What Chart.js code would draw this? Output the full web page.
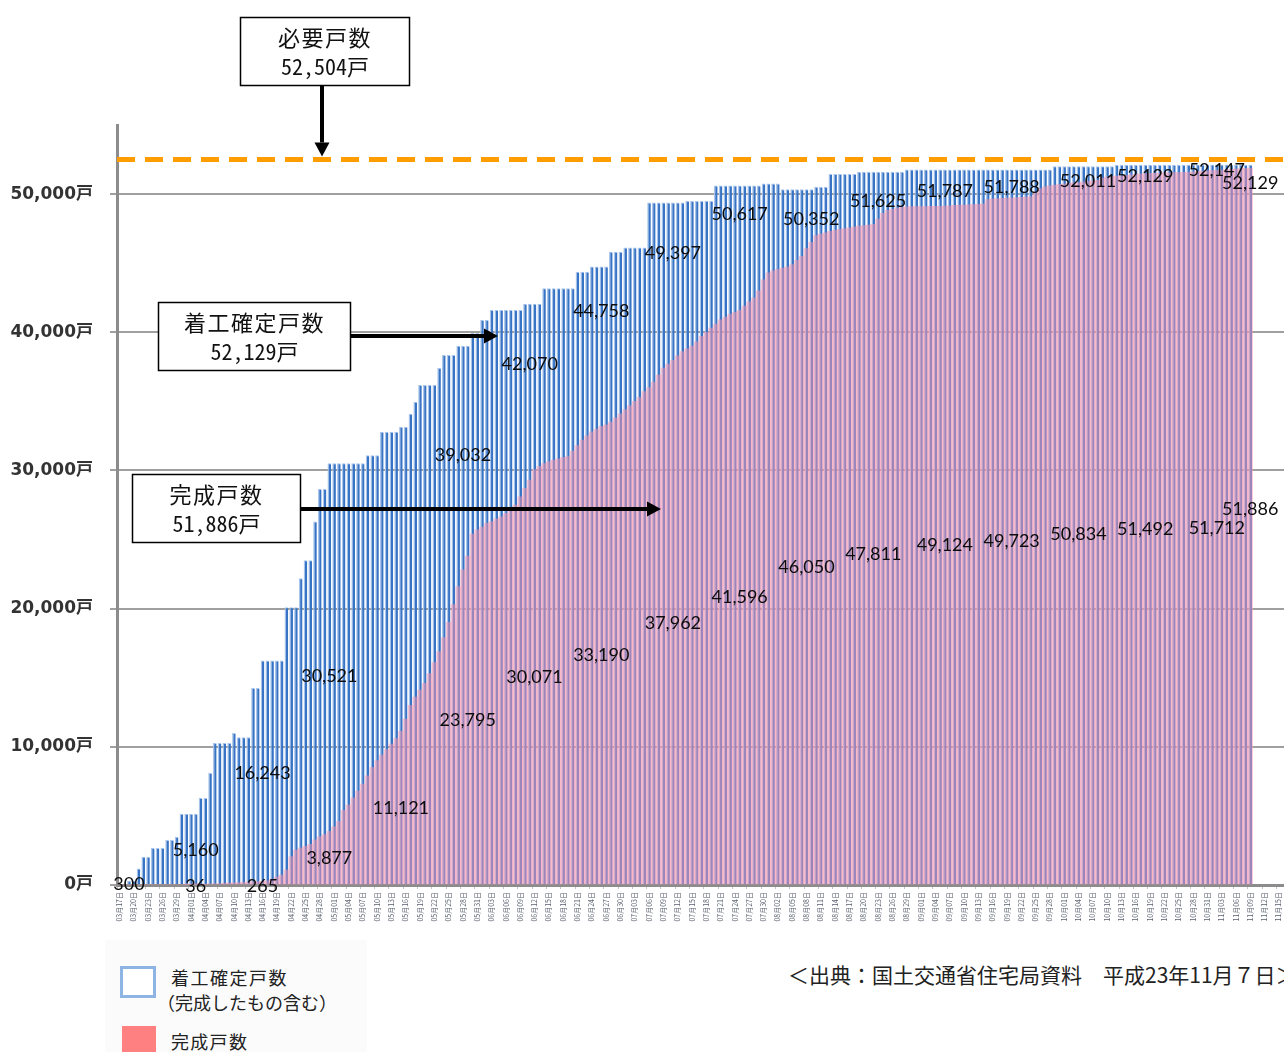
<!DOCTYPE html>
<html lang="ja">
<head>
<meta charset="utf-8">
<title>応急仮設住宅 着工確定戸数・完成戸数の推移</title>
<script src="https://cdn.jsdelivr.net/npm/chart.js@4.4.1/dist/chart.umd.min.js"></script>
<style>
  html, body { margin: 0; padding: 0; background: #fff; overflow: hidden; }
  #wrap { position: relative; width: 1284px; height: 1052px; overflow: hidden; background: #fff; }
  #c { position: absolute; left: 0; top: 0; }
  .jp { position: absolute; font-family: "Noto Sans CJK JP", sans-serif; color: #222; white-space: nowrap; line-height: 1; }
  #legendBg { position: absolute; left: 105px; top: 940px; width: 262px; height: 112px; background: #fbfbfb; }
  #swStarted { position: absolute; left: 120px; top: 966px; width: 30px; height: 26px; border: 3px solid #8db4e2; background: #fff; }
  #swDone { position: absolute; left: 122px; top: 1026px; width: 34px; height: 30px; background: #ff8080; }
</style>
</head>
<body>
<div id="wrap">
  <canvas id="c" width="1286" height="945"></canvas>
  <div id="legendBg"></div>
  <div id="swStarted"></div>
  <div class="jp" style="left:171px; top:968px; font-size:18px; letter-spacing:1.5px;">着工確定戸数</div>
  <div class="jp" style="left:157px; top:993px; font-size:18px;">（完成したもの含む）</div>
  <div id="swDone"></div>
  <div class="jp" style="left:171px; top:1032px; font-size:18px; letter-spacing:1.3px;">完成戸数</div>
  <div class="jp" style="left:788px; top:964px; font-size:21px;">＜出典：国土交通省住宅局資料　平成23年11月７日＞</div>
</div>
<script>
// Daily categories starting 17 March 2011
const firstDay = [2011, 2, 17];
const dayCount = 245;
const dayLabels = Array.from({ length: dayCount }, (_, i) => {
  const d = new Date(firstDay[0], firstDay[1], firstDay[2] + i);
  return String(d.getMonth() + 1).padStart(2, '0') + '月' + String(d.getDate()).padStart(2, '0') + '日';
});

// 着工確定戸数 (cumulative, includes completed units)
const started = [
  0, 0, 300, 300, 1200, 2050, 2050, 2680, 2680, 2680,
  3260, 3260, 3500, 5160, 5160, 5160, 5160, 6300, 6300, 8100,
  10270, 10270, 10270, 10270, 11000, 10700, 10700, 10700, 14250, 14250,
  16243, 16243, 16243, 16243, 16243, 20100, 20100, 20100, 22200, 23500,
  23500, 26300, 28650, 28650, 30521, 30521, 30521, 30521, 30521, 30521,
  30521, 30521, 31100, 31100, 31100, 32800, 32800, 32800, 32800, 33160,
  33160, 34100, 34970, 36180, 36180, 36180, 36180, 37410, 38350, 38350,
  38350, 39032, 39032, 39032, 39940, 39940, 40880, 40880, 41610, 41610,
  41610, 41610, 41610, 41610, 41610, 42070, 42070, 42070, 42070, 43180,
  43180, 43180, 43180, 43180, 43180, 43180, 44380, 44380, 44380, 44758,
  44758, 44758, 44758, 45820, 45820, 45820, 46140, 46140, 46140, 46140,
  46140, 49397, 49397, 49397, 49397, 49397, 49397, 49397, 49397, 49500,
  49500, 49500, 49500, 49500, 49500, 50617, 50617, 50617, 50617, 50617,
  50617, 50617, 50617, 50617, 50617, 50770, 50770, 50770, 50770, 50352,
  50352, 50352, 50352, 50352, 50352, 50352, 50530, 50530, 50530, 51450,
  51450, 51450, 51450, 51450, 51450, 51625, 51625, 51625, 51625, 51625,
  51625, 51625, 51625, 51625, 51625, 51787, 51787, 51787, 51787, 51787,
  51787, 51787, 51787, 51787, 51787, 51787, 51787, 51787, 51787, 51787,
  51787, 51788, 51788, 51788, 51788, 51788, 51788, 51788, 51788, 51788,
  51788, 51788, 51788, 51788, 51788, 51788, 52011, 52011, 52011, 52011,
  52011, 52011, 52011, 52011, 52011, 52011, 52011, 52011, 52011, 52129,
  52129, 52129, 52129, 52129, 52129, 52129, 52129, 52129, 52129, 52129,
  52129, 52129, 52129, 52129, 52129, 52147, 52147, 52147, 52147, 52147,
  52147, 52147, 52147, 52147, 52147, 52147, 52129, 52129
];

// 完成戸数 (cumulative)
const completed = [
  0, 0, 0, 0, 0, 0, 0, 0, 0, 0,
  0, 0, 0, 0, 36, 36, 36, 40, 52, 75,
  88, 104, 130, 146, 160, 181, 200, 214, 238, 250,
  265, 300, 420, 580, 720, 1090, 2050, 2530, 2680, 2800,
  2950, 3260, 3500, 3650, 3877, 4220, 4600, 5400, 5790, 6300,
  6800, 7300, 7900, 8500, 9000, 9400, 9800, 10200, 10600, 11121,
  12000, 13000, 13600, 14100, 14600, 15300, 16100, 16900, 17900, 19000,
  20300, 21600, 22800, 23795, 25400, 25700, 25900, 26200, 26300, 26500,
  26650, 26900, 27200, 27500, 28100, 28700, 29300, 30071, 30300, 30500,
  30650, 30750, 30850, 30950, 31000, 31400, 31800, 32200, 32500, 32800,
  33000, 33190, 33300, 33500, 33800, 34100, 34400, 34700, 35000, 35300,
  35700, 36000, 36400, 36900, 37400, 37700, 37962, 38300, 38600, 38800,
  39000, 39300, 39700, 40000, 40300, 40600, 40900, 41100, 41300, 41450,
  41596, 41900, 42200, 42500, 43000, 43800, 44300, 44450, 44550, 44650,
  44740, 44900, 45200, 45500, 46050, 46500, 47000, 47100, 47200, 47300,
  47400, 47450, 47500, 47550, 47630, 47680, 47720, 47760, 47811, 48200,
  48600, 48820, 48900, 48980, 49050, 49080, 49090, 49095, 49100, 49105,
  49110, 49115, 49120, 49124, 49150, 49180, 49200, 49210, 49220, 49240,
  49260, 49300, 49600, 49650, 49680, 49700, 49710, 49723, 49740, 49760,
  49780, 49800, 50100, 50400, 50530, 50600, 50650, 50700, 50740, 50780,
  50810, 50834, 50880, 50920, 50960, 51000, 51150, 51250, 51280, 51300,
  51330, 51360, 51400, 51430, 51460, 51492, 51500, 51510, 51520, 51530,
  51540, 51550, 51560, 51580, 51600, 51620, 51640, 51660, 51680, 51700,
  51712, 51730, 51760, 51790, 51820, 51850, 51870, 51886
];

// 必要戸数
const requiredUnits = 52504;

// Value labels: which day, and the height (in units) the text is centred on
const startedLabelIdx = [2, 16, 30, 44, 72, 86, 101, 116, 130, 145, 159, 173, 187, 203, 215, 230, 237];
const startedLabelAt  = [70, 2530, 8100, 15120, 31110, 37700, 41530, 45730, 48550, 48190, 49490, 50220, 50510, 50940, 51300, 51740, 50800];
const completedLabelIdx = [16, 30, 44, 59, 73, 87, 101, 116, 130, 144, 158, 173, 187, 201, 215, 230, 237];
// null = middle of the bar
const completedLabelAt  = [-70, -70, null, null, null, null, null, null, null, null, null, null, null, null, null, null, 27200];

const yTicks = [0, 10000, 20000, 30000, 40000, 50000];

const fmt = v => v.toLocaleString('en-US');

function drawArrow(ctx, x1, y1, x2, y2) {
  const ang = Math.atan2(y2 - y1, x2 - x1);
  const head = 14, half = 7.5;
  const bx = x2 - head * Math.cos(ang), by = y2 - head * Math.sin(ang);
  ctx.beginPath();
  ctx.moveTo(x1, y1);
  ctx.lineTo(bx, by);
  ctx.lineWidth = 4;
  ctx.strokeStyle = '#000';
  ctx.stroke();
  ctx.beginPath();
  ctx.moveTo(x2, y2);
  ctx.lineTo(bx - half * Math.sin(ang), by + half * Math.cos(ang));
  ctx.lineTo(bx + half * Math.sin(ang), by - half * Math.cos(ang));
  ctx.closePath();
  ctx.fillStyle = '#000';
  ctx.fill();
}

function drawCallout(ctx, x, y, w, h, line1, line2) {
  ctx.fillStyle = '#fff';
  ctx.fillRect(x, y, w, h);
  ctx.lineWidth = 1.5;
  ctx.strokeStyle = '#000';
  ctx.strokeRect(x, y, w, h);
  ctx.fillStyle = '#111';
  ctx.textAlign = 'center';
  ctx.textBaseline = 'middle';
  ctx.font = '22px "Noto Sans CJK JP"';
  ctx.letterSpacing = '1.5px';
  ctx.fillText(line1, x + w / 2, y + h * 0.29);
  ctx.font = '22px "Noto Sans Mono CJK JP", "Noto Sans CJK JP"';
  ctx.letterSpacing = '0px';
  ctx.fillText(line2, x + w / 2, y + h * 0.72);
}

const annotations = {
  id: 'annotations',
  afterDatasetsDraw(chart) {
    const { ctx, scales: { x, y } } = chart;
    ctx.save();
    ctx.font = '18px Lato';
    ctx.fillStyle = '#0c0c0c';
    ctx.textAlign = 'center';
    ctx.textBaseline = 'middle';
    startedLabelIdx.forEach((idx, k) => {
      ctx.fillText(fmt(started[idx]), x.getPixelForValue(idx), y.getPixelForValue(startedLabelAt[k]));
    });
    completedLabelIdx.forEach((idx, k) => {
      const at = completedLabelAt[k] === null ? completed[idx] / 2 : completedLabelAt[k];
      ctx.fillText(fmt(completed[idx]), x.getPixelForValue(idx), y.getPixelForValue(at));
    });
    ctx.restore();
  },
  afterDraw(chart) {
    const { ctx, chartArea, scales: { y } } = chart;
    ctx.save();
    // required units line
    const yReq = y.getPixelForValue(requiredUnits);
    ctx.beginPath();
    ctx.setLineDash([18, 10]);
    ctx.lineWidth = 5;
    ctx.strokeStyle = '#ff9c00';
    ctx.moveTo(chartArea.left, yReq);
    ctx.lineTo(chart.width, yReq);
    ctx.stroke();
    ctx.setLineDash([]);

    drawCallout(ctx, 240.5, 17.5, 169, 68, '必要戸数', fmt(requiredUnits) + '戸');
    drawArrow(ctx, 322, 86, 322, yReq - 3);

    drawCallout(ctx, 158.5, 302.5, 192, 68, '着工確定戸数', fmt(started[started.length - 1]) + '戸');
    drawArrow(ctx, 351, 336, 498, 336);

    drawCallout(ctx, 132.5, 474.5, 168, 68, '完成戸数', fmt(completed[completed.length - 1]) + '戸');
    drawArrow(ctx, 301, 509, 661, 509);
    ctx.restore();
  }
};

new Chart(document.getElementById('c'), {
  type: 'bar',
  data: {
    labels: dayLabels,
    datasets: [
      {
        label: '着工確定戸数（完成したもの含む）',
        data: started,
        backgroundColor: '#3874c6',
        borderColor: '#a9c5eb',
        borderWidth: { top: 1, left: 1.3, right: 0, bottom: 0 },
        barPercentage: 0.76,
        categoryPercentage: 1,
        grouped: false,
        order: 1
      },
      {
        label: '完成戸数',
        data: completed,
        backgroundColor: 'rgba(250,150,175,0.52)',
        borderWidth: 0,
        barPercentage: 1,
        categoryPercentage: 1,
        grouped: false,
        order: 0
      }
    ]
  },
  options: {
    responsive: false,
    animation: false,
    layout: { padding: { top: 125, left: 0, right: 0, bottom: 0 } },
    plugins: { legend: { display: false }, tooltip: { enabled: false } },
    scales: {
      x: {
        ticks: {
          autoSkip: false,
          maxRotation: 90,
          minRotation: 90,
          padding: 3,
          font: { size: 7, family: '"Noto Sans CJK JP"' },
          color: '#5c6070',
          callback: (v, i) => (i % 3 === 0 ? dayLabels[i] : '')
        },
        grid: {
          drawOnChartArea: false,
          drawTicks: true,
          tickLength: 4,
          tickColor: c => (c.index % 3 === 0 ? '#c4c4c4' : 'rgba(0,0,0,0)')
        },
        border: { display: true, color: '#8c8c8c', width: 3 },
        afterFit: s => { s.height = 60; s.paddingLeft = 0; s.paddingRight = 0; }
      },
      y: {
        min: 0,
        max: 55000,
        afterBuildTicks: s => { s.ticks = yTicks.map(v => ({ value: v })); },
        ticks: {
          padding: 17,
          font: { size: 17, weight: 'bold', family: '"DejaVu Sans", "Noto Sans CJK JP"' },
          color: '#333',
          callback: v => fmt(v) + '戸'
        },
        grid: { color: '#a0a0a0', lineWidth: 2, tickLength: 7 },
        border: { display: true, color: '#8c8c8c', width: 3 },
        afterFit: s => { s.width = 117; }
      }
    }
  },
  plugins: [annotations]
});
</script>
</body>
</html>
